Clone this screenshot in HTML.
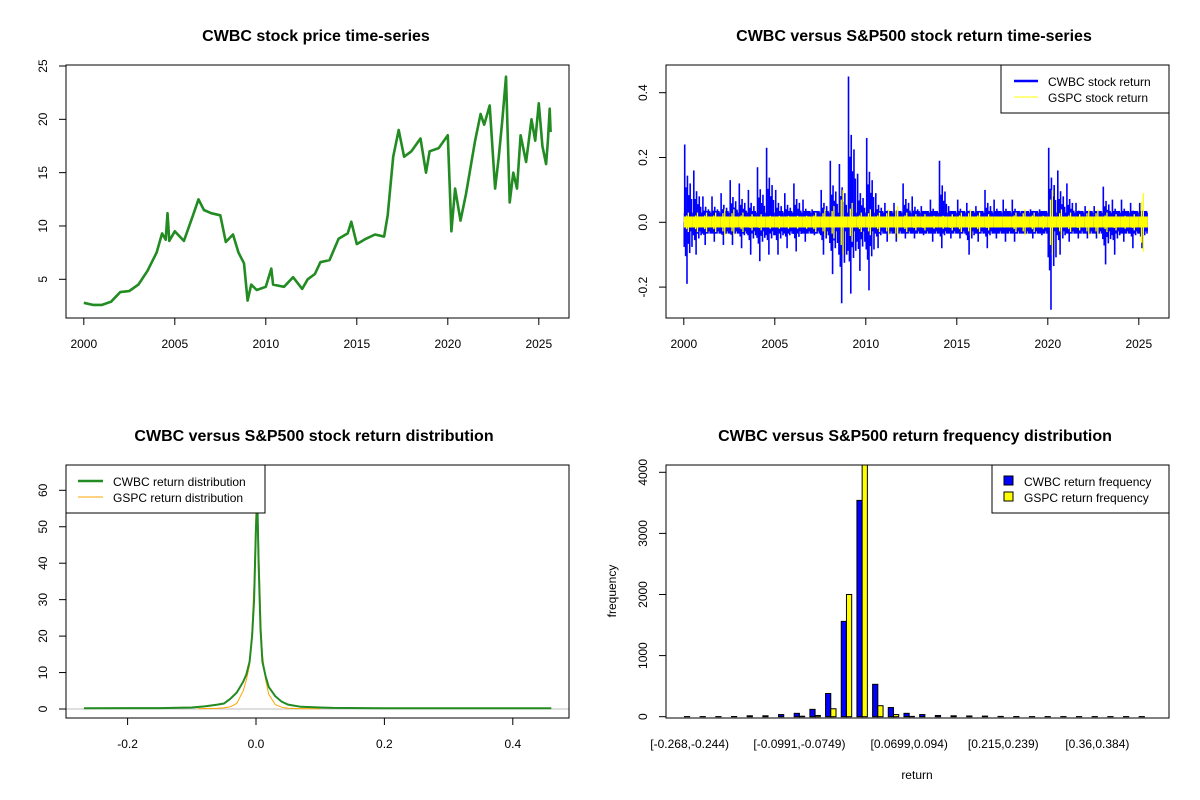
<!DOCTYPE html>
<html><head><meta charset="utf-8">
<style>
html,body{margin:0;padding:0;background:#fff;}
svg{display:block;font-family:"Liberation Sans",Arial,sans-serif;}
</style></head>
<body>
<svg id="fig" width="1200" height="800" viewBox="0 0 1200 800"></svg>
<script>
// ===== Panel 1: price =====
const priceYears=[2000.0,2000.5,2001,2001.5,2002,2002.5,2003,2003.5,2004,2004.3,2004.5,2004.6,2004.7,2005,2005.5,2006,2006.3,2006.6,2007,2007.5,2007.8,2008.2,2008.5,2008.8,2009,2009.2,2009.5,2010,2010.3,2010.4,2011,2011.5,2012,2012.3,2012.7,2013,2013.5,2014,2014.5,2014.7,2015,2015.5,2016,2016.5,2016.7,2017,2017.3,2017.6,2018,2018.5,2018.8,2019,2019.5,2020,2020.2,2020.4,2020.7,2021,2021.5,2021.8,2022,2022.3,2022.6,2022.8,2023,2023.2,2023.4,2023.6,2023.8,2024,2024.3,2024.6,2024.8,2025,2025.2,2025.4,2025.5,2025.6,2025.65];
const priceValues=[2.8,2.6,2.6,2.9,3.8,3.9,4.5,5.8,7.5,9.3,8.7,11.2,8.6,9.5,8.6,11,12.5,11.5,11.2,11.0,8.5,9.2,7.5,6.5,3.0,4.5,4.0,4.3,6.0,4.5,4.3,5.2,4.1,5.0,5.5,6.6,6.8,8.8,9.3,10.4,8.3,8.8,9.2,9.0,11.0,16.5,19.0,16.5,17.0,18.2,15.0,17.0,17.3,18.5,9.5,13.5,10.5,13.0,18.0,20.5,19.5,21.3,13.5,16.5,20.0,24.0,12.2,15.0,13.5,18.5,16.0,20.0,18.0,21.5,17.5,15.8,18.0,21.0,18.8];
const yearTicks=[2000,2005,2010,2015,2020,2025];
const priceTicks=[5,10,15,20,25];
// ===== Panel 2: returns (half-year extremes) =====
const retPeriods=[2000,2000.5,2001,2001.5,2002,2002.5,2003,2003.5,2004,2004.5,2005,2005.5,2006,2006.5,2007,2007.5,2008,2008.5,2009,2009.5,2010,2010.5,2011,2011.5,2012,2012.5,2013,2013.5,2014,2014.5,2015,2015.5,2016,2016.5,2017,2017.5,2018,2018.5,2019,2019.5,2020,2020.5,2021,2021.5,2022,2022.5,2023,2023.5,2024,2024.5,2025];
const cwbcHi=[0.24,0.16,0.08,0.08,0.09,0.13,0.12,0.10,0.17,0.23,0.10,0.09,0.12,0.07,0.04,0.10,0.19,0.18,0.45,0.15,0.26,0.09,0.06,0.06,0.12,0.08,0.05,0.07,0.19,0.05,0.07,0.06,0.05,0.10,0.07,0.07,0.07,0.03,0.04,0.04,0.23,0.16,0.12,0.06,0.05,0.05,0.11,0.07,0.07,0.06,0.06];
const cwbcLo=[-0.19,-0.10,-0.07,-0.06,-0.07,-0.07,-0.08,-0.10,-0.12,-0.10,-0.10,-0.08,-0.09,-0.06,-0.04,-0.10,-0.16,-0.25,-0.22,-0.15,-0.21,-0.08,-0.06,-0.06,-0.05,-0.05,-0.04,-0.06,-0.08,-0.05,-0.05,-0.10,-0.06,-0.08,-0.05,-0.06,-0.06,-0.03,-0.05,-0.04,-0.27,-0.10,-0.06,-0.05,-0.05,-0.05,-0.13,-0.10,-0.06,-0.08,-0.08];
const gspcAmp=[0.03,0.03,0.03,0.03,0.04,0.04,0.03,0.025,0.025,0.02,0.02,0.02,0.02,0.02,0.03,0.04,0.05,0.10,0.06,0.03,0.04,0.03,0.04,0.05,0.03,0.025,0.025,0.02,0.02,0.025,0.03,0.04,0.03,0.025,0.015,0.015,0.03,0.04,0.03,0.02,0.10,0.04,0.03,0.025,0.04,0.04,0.03,0.025,0.02,0.025,0.09];
const retTicks=[-0.2,0.0,0.2,0.4];
// ===== Panel 3: density =====
const densCwbcX=[-0.268,-0.15,-0.1,-0.08,-0.06,-0.05,-0.04,-0.03,-0.02,-0.015,-0.01,-0.006,-0.003,0,0.002,0.004,0.007,0.01,0.015,0.02,0.03,0.04,0.05,0.07,0.1,0.12,0.2,0.46];
const densCwbcY=[0.2,0.25,0.4,0.7,1.2,1.5,2.8,4.5,7.5,9.5,13,20,30,50,58,40,22,13,9,6,3.5,2,1.2,0.6,0.4,0.3,0.2,0.2];
const densGspcX=[-0.09,-0.06,-0.05,-0.04,-0.03,-0.02,-0.015,-0.01,-0.006,-0.003,0,0.002,0.005,0.008,0.01,0.015,0.02,0.03,0.04,0.05,0.07,0.1];
const densGspcY=[0.1,0.2,0.3,0.6,1.5,5,8,12,22,35,55,58,40,22,15,8,4,1.2,0.5,0.2,0.1,0.05];
const densXTicks=[-0.2,0.0,0.2,0.4];
const densYTicks=[0,10,20,30,40,50,60];
// ===== Panel 4: histogram =====
const binLabels=["[-0.268,-0.244)","[-0.244,-0.22)","[-0.22,-0.196)","[-0.196,-0.171)","[-0.171,-0.147)","[-0.147,-0.123)","[-0.123,-0.0991)","[-0.0991,-0.0749)","[-0.0749,-0.0508)","[-0.0508,-0.0266)","[-0.0266,-0.00245)","[-0.00245,0.0217)","[0.0217,0.0458)","[0.0458,0.0699)","[0.0699,0.094)","[0.094,0.118)","[0.118,0.142)","[0.142,0.167)","[0.167,0.191)","[0.191,0.215)","[0.215,0.239)","[0.239,0.263)","[0.263,0.287)","[0.287,0.312)","[0.312,0.336)","[0.336,0.36)","[0.36,0.384)","[0.384,0.408)","[0.408,0.432)","[0.432,0.457]"];
const histCwbc=[2,2,2,3,15,15,35,55,120,380,1560,3540,530,150,55,35,20,15,12,10,5,3,2,2,2,2,2,2,2,2];
const histGspc=[0,0,0,0,0,0,0,8,20,130,2000,4300,180,35,5,0,0,0,0,0,0,0,0,0,0,0,0,0,0,0];
const histYTicks=[0,1000,2000,3000,4000];
const histShownLabels=[0,7,14,20,26];

const NS="http://www.w3.org/2000/svg";
const svg=document.getElementById('fig');
function mk(tag,attrs,parent){const e=document.createElementNS(NS,tag);for(const k in attrs)e.setAttribute(k,attrs[k]);(parent||svg).appendChild(e);return e;}
function txt(s,x,y,attrs,parent){const t=mk('text',Object.assign({x:x,y:y,'font-size':12,fill:'#000','text-anchor':'middle'},attrs||{}),parent);t.textContent=s;return t;}
function ytxt(s,x,y,parent){return txt(s,x,y,{transform:`rotate(-90 ${x} ${y})`,'dominant-baseline':'central'},parent);}
const fmt=v=>(Math.abs(v)<1e-9?"0.0":v.toFixed(1));

function panel(name){const g=mk('g',{});return g;}
function box(g,x0,y0,x1,y1){const r=mk('rect',{x:x0,y:y0,width:x1-x0,height:y1-y0,fill:'none',stroke:'#000','stroke-width':1},g);}
function title(g,s,cx,y){const t=txt(s,cx,y,{'font-size':16,'font-weight':'bold'},g);}
function xAxis(g,ticks,sx,yb,lab){const a=mk('g',{},g);
  mk('line',{x1:sx(ticks[0]),x2:sx(ticks[ticks.length-1]),y1:yb,y2:yb,stroke:'#000'},a);
  ticks.forEach(t=>{mk('line',{x1:sx(t),x2:sx(t),y1:yb,y2:yb+7,stroke:'#000'},a);txt(lab(t),sx(t),yb+30,{},a);});}
function yAxis(g,ticks,sy,xl,lab){const a=mk('g',{},g);
  mk('line',{x1:xl,x2:xl,y1:sy(ticks[0]),y2:sy(ticks[ticks.length-1]),stroke:'#000'},a);
  ticks.forEach(t=>{mk('line',{x1:xl,x2:xl-7,y1:sy(t),y2:sy(t),stroke:'#000'},a);ytxt(lab(t),xl-23,sy(t),a);});}
function clip(id,x0,y0,x1,y1){const c=mk('clipPath',{id:id});mk('rect',{x:x0,y:y0,width:x1-x0,height:y1-y0},c);}

// ---------- Panel 1 ----------
(function(){
  const X0=66,X1=569,Y0=65,Y1=318;
  const sx=v=>83.8+(v-2000)*18.2, sy=v=>279.3-(v-5)*10.665;
  const g=panel('price-panel');
  title(g,'CWBC stock price time-series',316,41);
  clip('c1',X0,Y0,X1,Y1);
  const d=priceYears.map((y,i)=>(i?'L':'M')+sx(y).toFixed(1)+','+sy(priceValues[i]).toFixed(1)).join('');
  const p=mk('path',{d:d,fill:'none',stroke:'#228B22','stroke-width':2.6,'stroke-linejoin':'round','clip-path':'url(#c1)'},g);
  
  box(g,X0,Y0,X1,Y1);
  xAxis(g,yearTicks,sx,Y1,t=>String(t));
  yAxis(g,priceTicks,sy,X0,t=>String(t));
})();

// ---------- Panel 2 ----------
(function(){
  const X0=666,X1=1169,Y0=65,Y1=318;
  const sx=v=>683.8+(v-2000)*18.2, sy=v=>222.3-v*324;
  const g=panel('return-panel');
  title(g,'CWBC versus S&P500 stock return time-series',914,41);
  clip('c2',X0,Y0,X1,Y1);
  const s=mk('g',{'clip-path':'url(#c2)'},g);
  
  const upF=[[0.1,1],[0.25,0.45],[0.4,0.6],[0.55,0.35],[0.7,0.5],[0.85,0.3]];
  const dnF=[[0.05,0.4],[0.2,0.55],[0.35,1],[0.5,0.35],[0.65,0.5],[0.9,0.4]];
  retPeriods.forEach((t,i)=>{
    const xa=sx(t), xb=sx(Math.min(t+0.5,2025.65)), w=xb-xa;
    mk('rect',{x:xa,y:sy(0.03),width:w,height:sy(-0.028)-sy(0.03),fill:'#0000FF'},s);
    const hi=cwbcHi[i], lo=cwbcLo[i];
    upF.forEach(([f,k])=>mk('line',{x1:xa+w*f,x2:xa+w*f,y1:sy(0),y2:sy(Math.max(hi*k,0.035)),stroke:'#0000FF','stroke-width':1.6},s));
    dnF.forEach(([f,k])=>mk('line',{x1:xa+w*f,x2:xa+w*f,y1:sy(0),y2:sy(Math.min(lo*k,-0.035)),stroke:'#0000FF','stroke-width':1.6},s));
  });
  const yg=mk('g',{'clip-path':'url(#c2)'},g);
  
  retPeriods.forEach((t,i)=>{
    const xa=sx(t), xb=sx(Math.min(t+0.5,2025.65)), a=gspcAmp[i], w=xb-xa;
    mk('rect',{x:xa,y:sy(0.018),width:w,height:sy(-0.016)-sy(0.018),fill:'#FFFF00'},yg);
    mk('line',{x1:xa+w*0.5,x2:xa+w*0.5,y1:sy(a),y2:sy(-a),stroke:'#FFFF00','stroke-width':1.3},yg);
    mk('line',{x1:xa+w*0.3,x2:xa+w*0.3,y1:sy(a*0.7),y2:sy(-a*0.7),stroke:'#FFFF00','stroke-width':1.3},yg);
  });
  box(g,X0,Y0,X1,Y1);
  xAxis(g,yearTicks,sx,Y1,t=>String(t));
  yAxis(g,retTicks,sy,X0,fmt);
  const L=mk('g',{},g);
  mk('rect',{x:1001,y:65,width:168,height:48,fill:'#fff',stroke:'#000'},L);
  mk('line',{x1:1014,x2:1038,y1:81,y2:81,stroke:'#0000FF','stroke-width':2.5},L);
  mk('line',{x1:1014,x2:1038,y1:97,y2:97,stroke:'#FFFF00','stroke-width':1},L);
  const t1=txt('CWBC stock return',1048,86,{'text-anchor':'start'},L);
  const t2=txt('GSPC stock return',1048,102,{'text-anchor':'start'},L);
})();

// ---------- Panel 3 ----------
(function(){
  const X0=66,X1=569,Y0=465,Y1=718;
  const sx=v=>256+v*642, sy=v=>709-v*3.645;
  const g=panel('density-panel');
  title(g,'CWBC versus S&P500 stock return distribution',314,441);
  clip('c3',X0,Y0,X1,Y1);
  const h=mk('line',{x1:X0,x2:X1,y1:sy(0),y2:sy(0),stroke:'#BEBEBE'},g);
  const pg=mk('path',{d:densGspcX.map((x,i)=>(i?'L':'M')+sx(x).toFixed(1)+','+sy(densGspcY[i]).toFixed(1)).join(''),fill:'none',stroke:'#FFA500','stroke-width':1,'clip-path':'url(#c3)'},g);
  
  const pc=mk('path',{d:densCwbcX.map((x,i)=>(i?'L':'M')+sx(x).toFixed(1)+','+sy(densCwbcY[i]).toFixed(1)).join(''),fill:'none',stroke:'#228B22','stroke-width':2,'clip-path':'url(#c3)'},g);
  
  box(g,X0,Y0,X1,Y1);
  xAxis(g,densXTicks,sx,Y1,fmt);
  yAxis(g,densYTicks,sy,X0,t=>String(t));
  const L=mk('g',{},g);
  mk('rect',{x:66,y:465,width:199,height:48,fill:'#fff',stroke:'#000'},L);
  mk('line',{x1:78,x2:103,y1:481,y2:481,stroke:'#228B22','stroke-width':2.5},L);
  mk('line',{x1:78,x2:103,y1:497,y2:497,stroke:'#FFA500','stroke-width':1},L);
  const t1=txt('CWBC return distribution',113,486,{'text-anchor':'start'},L);
  const t2=txt('GSPC return distribution',113,502,{'text-anchor':'start'},L);
})();

// ---------- Panel 4 ----------
(function(){
  const X0=666,X1=1169,Y0=465,Y1=718;
  const u=5.227, bx0=679.2;
  const sy=v=>716.7-v*0.0611;
  const g=panel('histogram-panel');
  title(g,'CWBC versus S&P500 return frequency distribution',915,441);
  clip('c4',X0,Y0,X1,Y1);
  const bars=mk('g',{'clip-path':'url(#c4)'},g);
  binLabels.forEach((lab,i)=>{
    const xa=bx0+(3*i+1)*u;
    const b1=mk('rect',{x:xa,y:sy(histCwbc[i]),width:u,height:sy(0)-sy(histCwbc[i]),fill:'#0000FF',stroke:'#000','stroke-width':1},bars);
    
    const b2=mk('rect',{x:xa+u,y:sy(histGspc[i]),width:u,height:sy(0)-sy(histGspc[i]),fill:'#FFFF00',stroke:'#000','stroke-width':1},bars);
    
  });
  box(g,X0,Y0,X1,Y1);
  const xa=mk('g',{},g);
  histShownLabels.forEach(i=>txt(binLabels[i],bx0+(3*i+2)*u,748,{},xa));
  yAxis(g,histYTicks,sy,X0,t=>String(t));
  const xl=txt('return',917,779,{},g);
  const yl=ytxt('frequency',612,591,g);
  const L=mk('g',{},g);
  mk('rect',{x:992,y:465,width:177,height:48,fill:'#fff',stroke:'#000'},L);
  mk('rect',{x:1004,y:476,width:9,height:9,fill:'#0000FF',stroke:'#000'},L);
  mk('rect',{x:1004,y:492,width:9,height:9,fill:'#FFFF00',stroke:'#000'},L);
  const t1=txt('CWBC return frequency',1024,486,{'text-anchor':'start'},L);
  const t2=txt('GSPC return frequency',1024,502,{'text-anchor':'start'},L);
})();
</script>
</body></html>
